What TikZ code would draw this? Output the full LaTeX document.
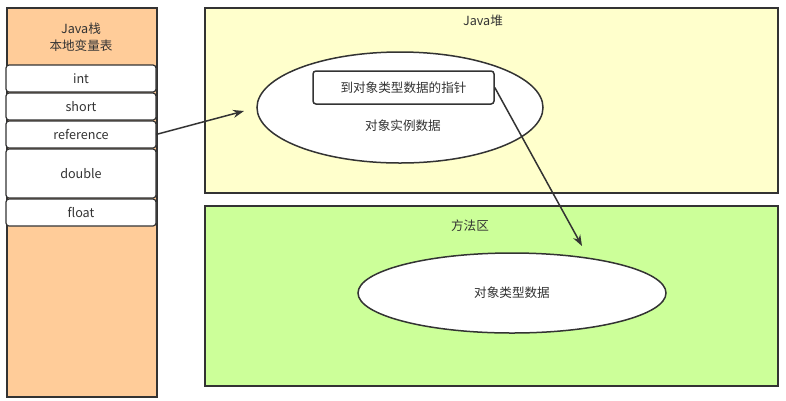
\documentclass[tikz,border=0pt]{standalone}
\usepackage{fontspec}
\setmainfont{Noto Sans CJK SC}
\usetikzlibrary{arrows.meta,positioning,shapes.geometric}
\definecolor{stackorange}{HTML}{FFCC99}
\definecolor{heapyellow}{HTML}{FFFFCC}
\definecolor{methodgreen}{HTML}{CCFF99}
\definecolor{linegray}{HTML}{333333}

\begin{document}
\begin{tikzpicture}[x=1pt,y=-1pt,>={Stealth[length=11pt,width=8pt]},
    every node/.style={font=\fontsize{12.6}{17}\selectfont,text=linegray},
    area/.style={draw=linegray,line width=1.5pt,anchor=north west,inner sep=0pt},
    slot/.style={draw=linegray,line width=1.2pt,fill=white,rounded corners=3pt,
                 minimum width=150pt,minimum height=27pt,inner sep=0pt,outer sep=0pt},
    blob/.style={ellipse,draw=linegray,line width=1.5pt,fill=white,inner sep=0pt}]
    \useasboundingbox (0,0) rectangle (786,400);

    % Java stack with its local variable slots
    \node[area,fill=stackorange,minimum width=150pt,minimum height=389pt] (stack) at (6,7) {};
    \node[align=center] (stacktitle) at (81,37) {Java栈\\本地变量表};
    \node[slot,anchor=north] (int) at (81,65) {int};
    \node[slot,below=1pt of int] (short) {short};
    \node[slot,below=1pt of short] (reference) {reference};
    \node[slot,minimum height=49pt,below=1pt of reference] (double) {double};
    \node[slot,below=1pt of double] (float) {float};

    % Java heap
    \node[area,fill=heapyellow,minimum width=573pt,minimum height=185pt] (heap) at (204,7) {};
    \node (heaptitle) at (483,21) {Java堆};
    \node[blob,minimum width=286pt,minimum height=111pt] (instance) at (400,107.5) {};
    \node[draw=linegray,line width=1.5pt,fill=white,rounded corners=3pt,
          minimum width=181pt,minimum height=33pt,inner sep=0pt] (pointer) at (403.5,87.5) {到对象类型数据的指针};
    \node (instancedata) at (403,126) {对象实例数据};

    % method area
    \node[area,fill=methodgreen,minimum width=573pt,minimum height=180pt] (method) at (204,205) {};
    \node (methodtitle) at (470,226) {方法区};
    \node[blob,minimum width=308pt,minimum height=80pt] (typedata) at (512,293) {对象类型数据};

    % references
    \coordinate (refend) at (244,111);
    \coordinate (typeend) at (582,246);
    \draw[->,draw=linegray,line width=1.5pt] (reference.east) -- (refend);
    \draw[->,draw=linegray,line width=1.5pt] (pointer.east) -- (typeend);
\end{tikzpicture}
\end{document}
